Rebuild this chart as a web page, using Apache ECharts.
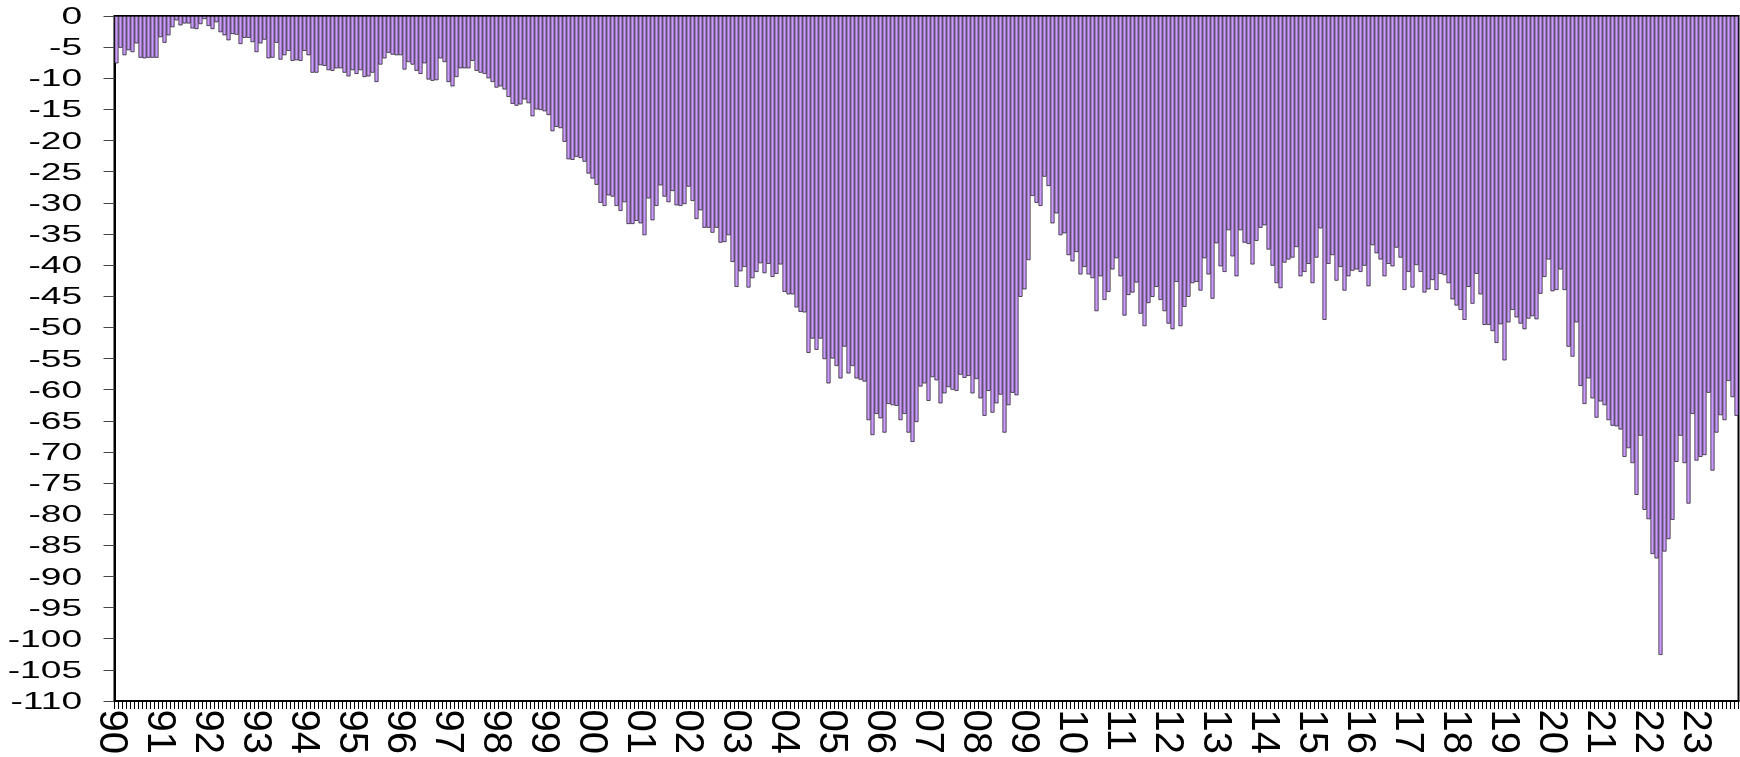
<!DOCTYPE html>
<html>
<head>
<meta charset="utf-8">
<script src="https://cdn.jsdelivr.net/npm/echarts@6/dist/echarts.min.js"></script>
<style>
html,body{margin:0;padding:0;background:#fff;}
#wrap{position:relative;width:1740px;height:757px;overflow:hidden;}
#chart{position:absolute;left:0;top:0;width:1740px;height:757px;}
#ylab{position:absolute;left:0;top:0;width:80px;height:757px;transform:scaleX(1.55);transform-origin:0 0;}
</style>
</head>
<body>
<div id="wrap">
<div id="chart"></div>
<div id="ylab"></div>
</div>
<script>
// Year tick labels (one per January)
const yearLabels = ['90','91','92','93','94','95','96','97','98','99',
  '00','01','02','03','04','05','06','07','08','09',
  '10','11','12','13','14','15','16','17','18','19',
  '20','21','22','23'];
const monthNames = ['01','02','03','04','05','06','07','08','09','10','11','12'];

// Monthly values, Jan 1990 .. Oct 2023
const values1990s = [
  -7.6,-5.1,-6.3,-5.5,-5.8,-4.4,-6.7,-6.8,-6.7,-6.7,-6.7,-3.4,
  -4.3,-3.1,-1.8,-0.7,-1.5,-1.2,-1.2,-2.0,-2.1,-1.3,-0.5,-1.6,
  -2.1,-1.0,-2.6,-3.1,-3.9,-2.9,-3.0,-4.5,-3.5,-3.5,-4.2,-5.8,
  -4.4,-3.8,-6.8,-6.7,-4.3,-7.0,-6.3,-5.6,-7.2,-7.1,-7.2,-5.6,
  -6.3,-9.1,-9.1,-7.9,-8.0,-8.7,-8.8,-8.4,-8.4,-9.1,-9.7,-8.7,
  -9.3,-8.7,-9.8,-9.7,-9.1,-10.6,-7.8,-6.8,-5.9,-6.2,-6.3,-6.3,
  -8.6,-7.4,-7.8,-8.8,-9.3,-7.6,-10.2,-10.4,-10.3,-6.8,-7.4,-10.6,
  -11.3,-9.8,-8.4,-8.4,-8.4,-7.2,-8.8,-9.1,-9.3,-10.0,-10.6,-11.5,
  -11.3,-11.8,-13.0,-14.1,-14.4,-14.2,-13.4,-14.0,-16.1,-15.0,-15.1,-15.3,
  -15.9,-18.5,-17.8,-18.0,-20.2,-23.0,-23.1,-22.6,-22.8,-23.4,-25.3,-26.1
];
const values2000s = [
  -27.1,-30.0,-30.5,-28.8,-29.0,-30.5,-31.3,-29.9,-33.4,-33.4,-32.9,-33.3,
  -35.2,-29.3,-32.8,-30.5,-27.2,-29.0,-29.9,-28.1,-30.4,-30.5,-30.2,-27.4,
  -29.7,-32.6,-31.2,-34.0,-34.0,-34.8,-34.0,-36.4,-36.3,-35.2,-39.5,-43.5,
  -41.0,-40.3,-43.6,-42.1,-41.1,-39.7,-41.3,-39.8,-41.9,-41.4,-39.9,-44.3,
  -44.7,-44.7,-46.8,-47.5,-47.6,-54.1,-51.8,-53.6,-51.8,-55.1,-59.0,-55.0,
  -56.2,-58.2,-53.1,-57.4,-56.2,-58.2,-58.4,-58.7,-64.9,-67.3,-63.9,-64.6,
  -66.9,-62.3,-62.5,-62.6,-64.9,-63.9,-66.9,-68.4,-65.2,-59.5,-59.0,-61.8,
  -58.0,-58.5,-62.2,-60.6,-59.6,-60.0,-60.2,-57.6,-58.1,-57.8,-60.6,-58.3,
  -61.4,-64.2,-60.2,-63.7,-62.2,-60.8,-66.9,-62.5,-60.5,-60.9,-45.1,-43.9,
  -39.2,-28.9,-30.0,-30.5,-25.8,-27.3,-33.3,-31.7,-35.2,-34.9,-38.4,-39.4
];
const values2010s = [
  -37.9,-41.5,-40.3,-41.5,-42.1,-47.4,-41.8,-45.6,-44.3,-40.7,-38.9,-41.8,
  -48.1,-44.8,-44.4,-42.8,-47.8,-49.8,-46.1,-45.1,-43.5,-45.6,-47.4,-49.4,
  -50.3,-42.7,-49.8,-46.7,-45.1,-42.9,-42.7,-44.1,-38.9,-41.5,-45.4,-36.5,
  -40.2,-41.1,-34.4,-38.6,-41.8,-34.4,-36.4,-36.6,-39.9,-36.1,-34.0,-33.6,
  -37.5,-40.1,-42.9,-43.7,-39.6,-39.1,-38.8,-37.1,-41.8,-41.1,-39.8,-42.9,
  -38.8,-34.1,-48.8,-39.8,-38.4,-42.5,-40.3,-44.1,-41.8,-40.9,-40.7,-41.1,
  -40.1,-43.4,-36.8,-38.1,-39.1,-41.8,-39.8,-40.2,-37.2,-38.8,-44.0,-41.1,
  -43.6,-40.0,-41.1,-44.4,-43.9,-42.4,-44.0,-41.4,-41.6,-42.9,-45.5,-46.5,
  -47.2,-48.8,-43.5,-46.2,-41.4,-44.7,-49.6,-49.6,-50.6,-52.5,-49.5,-55.3,
  -49.2,-47.2,-48.4,-49.4,-50.3,-48.6,-48.2,-48.7,-44.6,-41.9,-39.1,-44.2
];
const values2020s = [
  -44.0,-40.7,-44.0,-53.1,-54.7,-49.2,-59.4,-62.3,-58.2,-61.4,-64.5,-61.9,
  -62.5,-64.9,-65.8,-65.9,-66.4,-70.8,-69.4,-71.8,-76.9,-67.4,-79.3,-80.8,
  -86.4,-87.1,-102.6,-86.0,-84.0,-80.9,-71.6,-67.4,-71.8,-78.3,-63.9,-71.4,
  -70.8,-70.5,-60.5,-73.0,-66.9,-64.1,-64.9,-58.6,-61.2,-64.2
];
const yTicks = {min: -110, max: 0, step: 5};

const values = [].concat(values1990s, values2000s, values2010s, values2020s);
const categories = [];
yearLabels.forEach(function (y) {
  monthNames.forEach(function (m) { categories.push(y + '-' + m); });
});
categories.length = values.length;

const FONT = "'Liberation Sans', Arial, sans-serif";
const chart = echarts.init(document.getElementById('chart'), null, {renderer: 'canvas'});
chart.setOption({
  animation: false,
  backgroundColor: '#ffffff',
  grid: [
    {left: 114.5, right: 1.5, top: 16, bottom: 56, show: true, borderColor: '#000', borderWidth: 2, backgroundColor: 'transparent'},
    {left: 111, right: 5, top: 16, bottom: 56, show: false}
  ],
  xAxis: [
    {
      type: 'category', gridIndex: 0, data: categories,
      boundaryGap: true,
      axisLine: {show: true, onZero: false, lineStyle: {color: '#000', width: 2}},
      axisTick: {show: true, interval: 0, length: 8, lineStyle: {color: '#000', width: 1}},
      axisLabel: {show: false},
      splitLine: {show: false}
    },
    {
      type: 'value', gridIndex: 1, min: 0, max: values.length, interval: 12,
      axisLine: {show: false}, axisTick: {show: false}, splitLine: {show: false},
      axisLabel: {
        show: true, rotate: -90, margin: 12, fontSize: 40, color: '#000', fontFamily: FONT,
        showMaxLabel: false,
        formatter: function (v) { return (v % 12 === 0 && yearLabels[v / 12]) ? yearLabels[v / 12] : ''; }
      }
    }
  ],
  yAxis: [
    {
      type: 'value', gridIndex: 0, min: yTicks.min, max: yTicks.max, interval: yTicks.step,
      axisLine: {show: true, lineStyle: {color: '#000', width: 2}},
      axisTick: {show: true, length: 11, lineStyle: {color: '#444', width: 1}},
      axisLabel: {show: false},
      splitLine: {show: false}
    },
    {
      type: 'value', gridIndex: 1, min: yTicks.min, max: yTicks.max, show: false
    }
  ],
  series: [{
    type: 'bar', xAxisIndex: 0, yAxisIndex: 0, data: values,
    barCategoryGap: '0%',
    itemStyle: {color: '#CC99FF', borderColor: '#111', borderWidth: 0.7}
  }]
});

// Y tick labels: drawn by a second ECharts instance, widened horizontally like the reference lettering
const ylab = echarts.init(document.getElementById('ylab'), null, {renderer: 'svg'});
ylab.setOption({
  animation: false,
  grid: {left: 60, right: 10, top: 16, bottom: 56, show: false},
  xAxis: {type: 'value', show: false},
  yAxis: {
    type: 'value', min: yTicks.min, max: yTicks.max, interval: yTicks.step,
    axisLine: {show: false}, axisTick: {show: false}, splitLine: {show: false},
    axisLabel: {margin: 7, fontSize: 24, color: '#000', fontFamily: FONT}
  },
  series: []
});
</script>
</body>
</html>
